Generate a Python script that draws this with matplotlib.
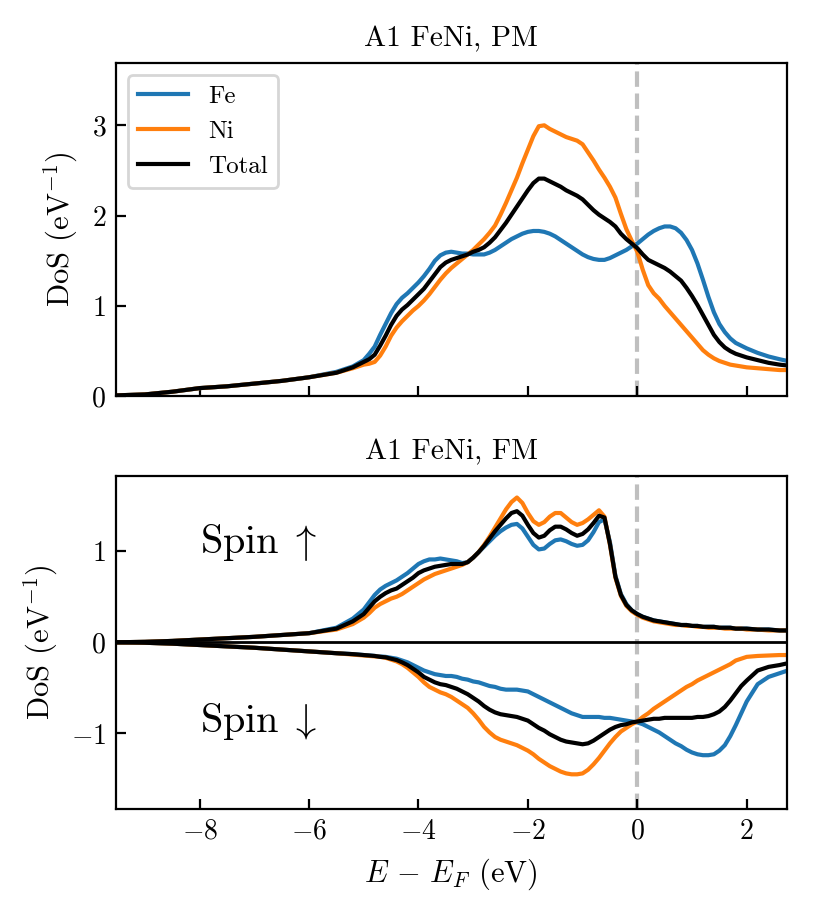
import numpy as np
import matplotlib
matplotlib.use('Agg')
from matplotlib import pyplot as plt

plt.rcParams['font.family'] = 'serif'
plt.rcParams['font.serif'] = ['cmr10']
plt.rcParams['mathtext.fontset'] = 'cm'
plt.rcParams['axes.formatter.use_mathtext'] = True
plt.rcParams['font.size'] = 10

# energy grid (eV), shared by both panels
E = [-9.5, -9.0, -8.5, -8.0, -7.5, -7.0, -6.5, -6.0, -5.5, -5.2,
     -5.0, -4.9, -4.8, -4.7, -4.6, -4.5, -4.4, -4.3, -4.2, -4.1,
     -4.0, -3.9, -3.8, -3.7, -3.6, -3.5, -3.4, -3.3, -3.2, -3.1,
     -3.0, -2.9, -2.8, -2.7, -2.6, -2.5, -2.4, -2.3, -2.2, -2.1,
     -2.0, -1.9, -1.8, -1.7, -1.6, -1.5, -1.4, -1.3, -1.2, -1.1,
     -1.0, -0.9, -0.8, -0.7, -0.6, -0.5, -0.4, -0.3, -0.2, -0.1,
     0.0, 0.1, 0.2, 0.3, 0.4, 0.5, 0.6, 0.7, 0.8, 0.9,
     1.0, 1.1, 1.2, 1.3, 1.4, 1.5, 1.6, 1.7, 1.8, 1.9,
     2.0, 2.2, 2.4, 2.6, 2.75]

# ---- PM ----
fe_pm = [0.01, 0.02, 0.05, 0.09, 0.11, 0.14, 0.17, 0.21, 0.27, 0.33,
         0.40, 0.47, 0.55, 0.68, 0.80, 0.92, 1.02, 1.09, 1.14, 1.20,
         1.26, 1.33, 1.41, 1.50, 1.56, 1.59, 1.60, 1.59, 1.58, 1.58,
         1.57, 1.57, 1.57, 1.59, 1.62, 1.66, 1.70, 1.74, 1.77, 1.80,
         1.82, 1.83, 1.83, 1.82, 1.80, 1.77, 1.73, 1.69, 1.65, 1.61,
         1.57, 1.54, 1.52, 1.51, 1.51, 1.53, 1.56, 1.59, 1.62, 1.66,
         1.69, 1.74, 1.79, 1.83, 1.86, 1.88, 1.88, 1.86, 1.81, 1.73,
         1.62, 1.47, 1.29, 1.10, 0.93, 0.80, 0.71, 0.64, 0.59, 0.56,
         0.53, 0.48, 0.44, 0.41, 0.39]

ni_pm = [0.01, 0.02, 0.05, 0.09, 0.11, 0.14, 0.17, 0.21, 0.26, 0.31,
         0.35, 0.36, 0.38, 0.45, 0.55, 0.67, 0.76, 0.83, 0.89, 0.95,
         1.00, 1.06, 1.13, 1.21, 1.29, 1.36, 1.42, 1.47, 1.52, 1.57,
         1.62, 1.68, 1.74, 1.81, 1.89, 2.01, 2.14, 2.28, 2.42, 2.58,
         2.73, 2.88, 2.99, 3.00, 2.96, 2.93, 2.90, 2.87, 2.85, 2.83,
         2.79, 2.70, 2.61, 2.51, 2.42, 2.32, 2.20, 2.02, 1.85, 1.72,
         1.60, 1.40, 1.23, 1.14, 1.08, 1.00, 0.93, 0.86, 0.79, 0.72,
         0.65, 0.58, 0.51, 0.46, 0.42, 0.39, 0.37, 0.35, 0.34, 0.33,
         0.32, 0.31, 0.30, 0.29, 0.29]

tot_pm = [0.01, 0.02, 0.05, 0.09, 0.11, 0.14, 0.17, 0.21, 0.26, 0.32,
          0.38, 0.41, 0.46, 0.56, 0.67, 0.79, 0.89, 0.96, 1.01, 1.07,
          1.13, 1.19, 1.27, 1.35, 1.43, 1.48, 1.51, 1.53, 1.55, 1.57,
          1.60, 1.62, 1.65, 1.70, 1.76, 1.84, 1.92, 2.01, 2.10, 2.19,
          2.28, 2.36, 2.41, 2.41, 2.38, 2.35, 2.32, 2.28, 2.25, 2.22,
          2.18, 2.12, 2.06, 2.01, 1.97, 1.93, 1.88, 1.80, 1.74, 1.69,
          1.64, 1.57, 1.51, 1.48, 1.45, 1.42, 1.38, 1.33, 1.28, 1.20,
          1.11, 1.01, 0.90, 0.79, 0.68, 0.60, 0.54, 0.50, 0.47, 0.45,
          0.43, 0.40, 0.37, 0.35, 0.34]

# ---- FM, spin up ----
fe_up = [0.0, 0.005, 0.015, 0.03, 0.045, 0.06, 0.08, 0.10, 0.16, 0.26,
         0.36, 0.44, 0.52, 0.58, 0.62, 0.65, 0.68, 0.72, 0.76, 0.81,
         0.86, 0.89, 0.91, 0.91, 0.92, 0.91, 0.90, 0.89, 0.87, 0.88,
         0.93, 0.99, 1.05, 1.11, 1.17, 1.22, 1.26, 1.29, 1.30, 1.25,
         1.16, 1.07, 1.02, 1.03, 1.08, 1.12, 1.13, 1.11, 1.08, 1.06,
         1.07, 1.12, 1.21, 1.32, 1.35, 1.10, 0.73, 0.53, 0.42, 0.35,
         0.31, 0.28, 0.26, 0.24, 0.23, 0.22, 0.21, 0.20, 0.19, 0.19,
         0.18, 0.18, 0.17, 0.17, 0.17, 0.16, 0.16, 0.16, 0.15, 0.15,
         0.15, 0.14, 0.14, 0.13, 0.13]

ni_up = [0.0, 0.005, 0.015, 0.03, 0.045, 0.06, 0.08, 0.10, 0.14, 0.20,
         0.27, 0.32, 0.38, 0.42, 0.45, 0.48, 0.50, 0.53, 0.57, 0.61,
         0.65, 0.69, 0.72, 0.75, 0.77, 0.79, 0.81, 0.83, 0.85, 0.88,
         0.93, 0.99, 1.07, 1.16, 1.26, 1.36, 1.46, 1.54, 1.59, 1.53,
         1.42, 1.33, 1.29, 1.32, 1.38, 1.42, 1.42, 1.37, 1.32, 1.29,
         1.31, 1.35, 1.40, 1.45, 1.38, 1.07, 0.71, 0.51, 0.40, 0.34,
         0.30, 0.27, 0.25, 0.23, 0.22, 0.21, 0.20, 0.19, 0.19, 0.18,
         0.18, 0.17, 0.17, 0.16, 0.16, 0.16, 0.15, 0.15, 0.15, 0.15,
         0.14, 0.14, 0.13, 0.13, 0.13]

tot_up = [0.0, 0.005, 0.015, 0.03, 0.045, 0.06, 0.08, 0.10, 0.15, 0.23,
          0.31, 0.38, 0.45, 0.50, 0.54, 0.57, 0.59, 0.63, 0.67, 0.71,
          0.76, 0.79, 0.81, 0.83, 0.84, 0.85, 0.86, 0.86, 0.86, 0.88,
          0.93, 0.99, 1.06, 1.14, 1.22, 1.29, 1.36, 1.42, 1.44, 1.39,
          1.29, 1.20, 1.15, 1.17, 1.23, 1.27, 1.27, 1.24, 1.20, 1.17,
          1.19, 1.24, 1.31, 1.39, 1.37, 1.08, 0.72, 0.52, 0.41, 0.35,
          0.31, 0.28, 0.26, 0.24, 0.23, 0.22, 0.21, 0.20, 0.19, 0.19,
          0.18, 0.18, 0.17, 0.17, 0.17, 0.16, 0.16, 0.16, 0.15, 0.15,
          0.15, 0.14, 0.14, 0.13, 0.13]

# ---- FM, spin down ----
fe_dn = [0.0, -0.005, -0.015, -0.03, -0.045, -0.06, -0.08, -0.10, -0.12, -0.13,
         -0.14, -0.145, -0.15, -0.155, -0.16, -0.17, -0.18, -0.20, -0.22, -0.25,
         -0.28, -0.31, -0.33, -0.35, -0.36, -0.37, -0.37, -0.38, -0.40, -0.41,
         -0.43, -0.44, -0.46, -0.48, -0.49, -0.51, -0.52, -0.52, -0.52, -0.53,
         -0.54, -0.57, -0.60, -0.63, -0.66, -0.69, -0.72, -0.75, -0.78, -0.80,
         -0.82, -0.82, -0.82, -0.82, -0.83, -0.83, -0.84, -0.85, -0.86, -0.87,
         -0.88, -0.90, -0.93, -0.96, -0.99, -1.03, -1.07, -1.11, -1.14, -1.18,
         -1.21, -1.23, -1.24, -1.24, -1.23, -1.19, -1.13, -1.03, -0.91, -0.78,
         -0.65, -0.46, -0.38, -0.34, -0.31]

ni_dn = [0.0, -0.005, -0.015, -0.03, -0.045, -0.06, -0.08, -0.10, -0.12, -0.135,
         -0.145, -0.15, -0.155, -0.16, -0.17, -0.19, -0.21, -0.24, -0.28, -0.33,
         -0.38, -0.44, -0.49, -0.52, -0.55, -0.57, -0.60, -0.64, -0.68, -0.72,
         -0.78, -0.85, -0.93, -0.99, -1.04, -1.07, -1.09, -1.11, -1.13, -1.16,
         -1.19, -1.23, -1.28, -1.32, -1.36, -1.39, -1.42, -1.44, -1.45, -1.45,
         -1.44, -1.40, -1.34, -1.27, -1.19, -1.11, -1.04, -0.98, -0.94, -0.90,
         -0.87, -0.82, -0.78, -0.73, -0.69, -0.65, -0.61, -0.57, -0.53, -0.49,
         -0.46, -0.42, -0.39, -0.36, -0.33, -0.30, -0.27, -0.24, -0.20, -0.18,
         -0.16, -0.15, -0.145, -0.14, -0.14]

tot_dn = [0.0, -0.005, -0.015, -0.03, -0.045, -0.06, -0.08, -0.10, -0.12, -0.13,
          -0.14, -0.145, -0.15, -0.16, -0.165, -0.18, -0.195, -0.22, -0.25, -0.29,
          -0.33, -0.38, -0.41, -0.44, -0.46, -0.47, -0.49, -0.51, -0.54, -0.57,
          -0.61, -0.65, -0.70, -0.74, -0.77, -0.79, -0.80, -0.81, -0.82, -0.84,
          -0.86, -0.90, -0.94, -0.97, -1.01, -1.04, -1.07, -1.09, -1.10, -1.11,
          -1.12, -1.11, -1.08, -1.04, -1.00, -0.96, -0.93, -0.91, -0.90, -0.88,
          -0.87, -0.86, -0.85, -0.84, -0.84, -0.83, -0.83, -0.83, -0.83, -0.83,
          -0.83, -0.82, -0.82, -0.81, -0.79, -0.76, -0.71, -0.64, -0.56, -0.48,
          -0.42, -0.31, -0.27, -0.25, -0.23]

labels = ['Fe', 'Ni', 'Total']
colors = ['#1f77b4', '#ff7f0e', 'k']

fig = plt.figure(figsize=(4.11, 4.565), dpi=200)
ax1 = fig.add_axes([0.141, 0.566, 0.816, 0.365])
ax2 = fig.add_axes([0.141, 0.114, 0.816, 0.365], sharex=ax1)

# PM panel
for y, lab, c in zip([fe_pm, ni_pm, tot_pm], labels, colors):
    ax1.plot(E, y, color=c, lw=1.5, label=lab)
ax1.axvline(0, color='0.75', ls='--', lw=1.5, zorder=0)
ax1.set_ylim(0, 3.69)
ax1.set_yticks([0, 1, 2, 3])
ax1.set_ylabel(r'DoS (eV$^{-1}$)', fontsize=11)
ax1.set_title('A1 FeNi, PM', fontsize=10.6)
ax1.legend(loc='upper left', fontsize=9)
ax1.tick_params(direction='in', labelbottom=False)

# FM panel
for yu, yd, c in zip([fe_up, ni_up, tot_up], [fe_dn, ni_dn, tot_dn], colors):
    ax2.plot(E, yu, color=c, lw=1.5)
    ax2.plot(E, yd, color=c, lw=1.5)
ax2.axhline(0, color='k', lw=1.0)
ax2.axvline(0, color='0.75', ls='--', lw=1.5, zorder=0)
ax2.set_ylim(-1.83, 1.83)
ax2.set_yticks([-1, 0, 1])
ax2.text(-8.0, 1.1, r'$\mathrm{Spin}\;\uparrow$', fontsize=14.5, va='center', ha='left')
ax2.text(-8.0, -0.87, r'$\mathrm{Spin}\;\downarrow$', fontsize=14.5, va='center', ha='left')
ax2.set_ylabel(r'DoS (eV$^{-1}$)', fontsize=11)
ax2.set_xlabel(r'$E\,-\,E_F$ (eV)', fontsize=11)
ax2.set_title('A1 FeNi, FM', fontsize=10.6)
ax2.tick_params(direction='in')

ax1.set_xlim(-9.53, 2.73)
ax2.set_xticks([-8, -6, -4, -2, 0, 2])

fig.savefig('out.png', dpi=200)
